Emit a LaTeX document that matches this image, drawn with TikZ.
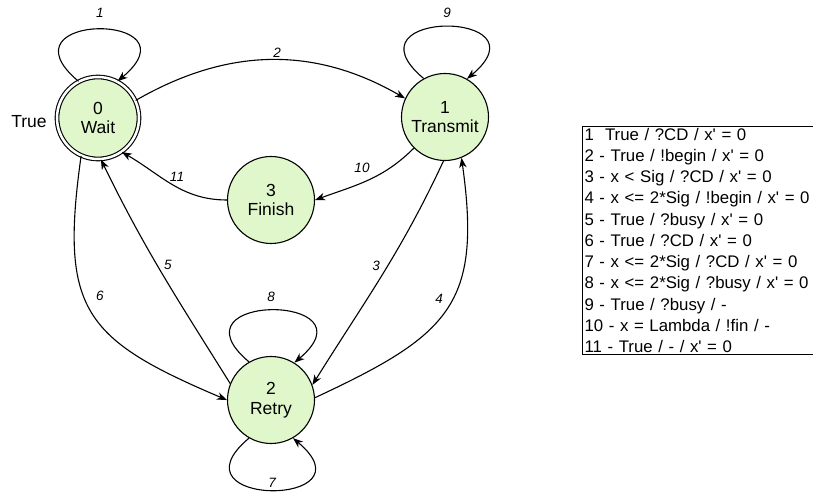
\documentclass[tikz,border=0pt]{standalone}
\usepackage{fontspec}
\setmainfont{Liberation Sans}
\usetikzlibrary{arrows.meta}
\usetikzlibrary{positioning}
\definecolor{statefill}{HTML}{E0F7CC}

\begin{document}
\begin{tikzpicture}[x=1pt,y=1pt,
  state/.style={circle,draw,line width=1.1pt,fill=statefill,minimum size=87pt,inner sep=0pt,align=center,font=\fontsize{17.5}{19.5}\selectfont},
  trans/.style={line width=1.1pt,-{Stealth[length=10pt,width=7.5pt,inset=3pt]}},
  lbl/.style={font=\fontsize{13.5}{16}\selectfont\itshape,inner sep=0pt}]
\useasboundingbox (0,0) rectangle (813,495);

\node[state,double,double distance=2.5pt,minimum size=82pt] (wait) at (98,377) {0\\Wait};
\node[state] (transmit) at (445,378) {1\\Transmit};
\node[state] (finish) at (271,295) {3\\Finish};
\node[state] (retry) at (271,95) {2\\Retry};
\node[font=\fontsize{17.5}{19.5}\selectfont] (init) at (29,373) {True};

\draw[trans] (wait.118) to[out=140,in=40,distance=108pt] (wait.62);
\draw[trans] (transmit.119) to[out=140,in=40,distance=108pt] (transmit.60);
\draw[trans] (retry.120) to[out=140,in=40,distance=108pt] (retry.58);
\draw[trans] (retry.240) to[out=220,in=-40,distance=108pt] (retry.-60);

\draw[trans] (wait.25) to[out=30,in=150] (transmit.155);
\draw[trans] (finish.180) to[out=180,in=-30] (wait.-55);
\draw[trans] (transmit.225) to[out=225,in=20] (finish.0);
\draw[trans] (transmit.268) to[out=245,in=58] (retry.20);
\draw[trans] (retry.3) to[out=25,in=-82,looseness=1.35] (transmit.-68);
\draw[trans] (retry.158) to[out=122,in=-64] (wait.-86);
\draw[trans] (wait.246) to[out=262,in=157,looseness=1.4] (retry.180);

\node[lbl] (l1) at (100,482) {1};
\node[lbl] (l2) at (277,442) {2};
\node[lbl] (l3) at (376,229) {3};
\node[lbl] (l4) at (439,196) {4};
\node[lbl] (l5) at (168,230) {5};
\node[lbl] (l6) at (100,199) {6};
\node[lbl] (l7) at (272,12) {7};
\node[lbl] (l8) at (271,198) {8};
\node[lbl] (l9) at (447,482) {9};
\node[lbl] (l10) at (362,327) {10};
\node[lbl] (l11) at (177,318) {11};

\node[draw,line width=1.1pt,anchor=north west,inner xsep=2pt,inner ysep=1.5pt,text width=250pt,align=left,font=\fontsize{16.8}{21.25}\selectfont] (legend) at (582,369) {%
1\ \ True / ?CD / x\textquotesingle{} = 0\\
2 - True / !begin / x\textquotesingle{} = 0\\
3 - x < Sig / ?CD / x\textquotesingle{} = 0\\
4 - x <= 2*Sig / !begin / x\textquotesingle{} = 0\\
5 - True / ?busy / x\textquotesingle{} = 0\\
6 - True / ?CD / x\textquotesingle{} = 0\\
7 - x <= 2*Sig / ?CD / x\textquotesingle{} = 0\\
8 - x <= 2*Sig / ?busy / x\textquotesingle{} = 0\\
9 - True / ?busy / -\\
10 - x = Lambda / !fin / -\\
11 - True / - / x\textquotesingle{} = 0};

\end{tikzpicture}
\end{document}
